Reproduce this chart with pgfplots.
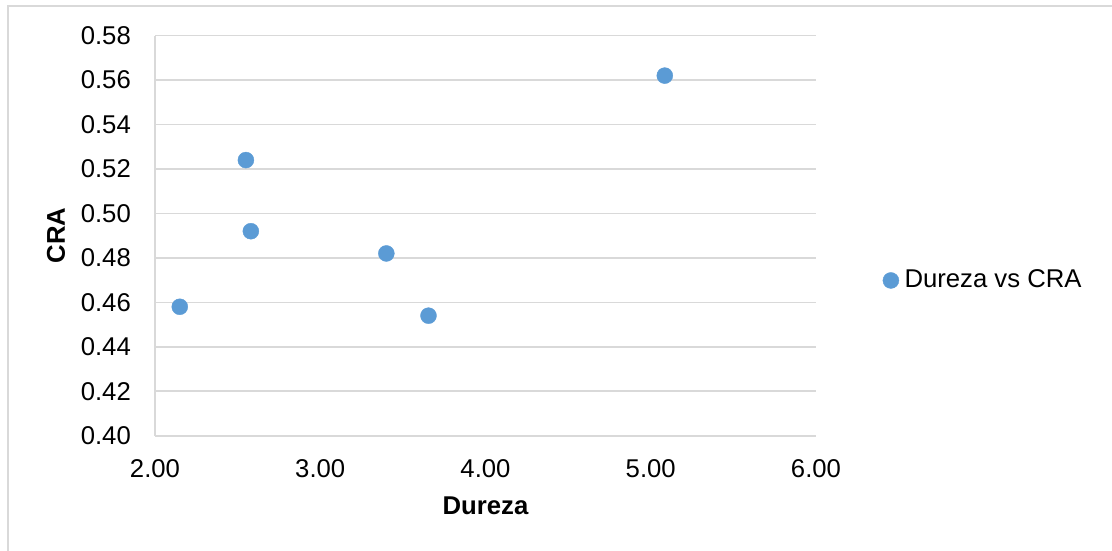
\documentclass[border=0pt]{standalone}
\usepackage{pgfplots}
\pgfplotsset{compat=1.18}
\usepackage{fontspec}
\setmainfont{Liberation Sans}
\definecolor{dotblue}{HTML}{5B9BD5}
\definecolor{gridgray}{HTML}{D9D9D9}
\begin{document}
\fontsize{25.7bp}{30bp}\selectfont
\begin{tikzpicture}
\useasboundingbox (0,0) rectangle (1112bp,-551bp);
% chart frame (top and left edges)
\draw[gridgray, line width=1.6bp] (8.2bp,-551bp) -- (8.2bp,-5.8bp) -- (1112bp,-5.8bp);
\begin{axis}[
  at={(155bp,-435.7bp)}, anchor=south west,
  scale only axis, width=661bp, height=400.1bp,
  xmin=2, xmax=6, ymin=0.40, ymax=0.58,
  xtick={2,3,4,5,6},
  ytick={0.40,0.42,0.44,0.46,0.48,0.50,0.52,0.54,0.56,0.58},
  axis x line*=bottom, axis y line*=left,
  axis line style={gridgray, line width=1.6bp, -},
  ymajorgrids, grid style={gridgray, line width=1.6bp},
  major tick length=0pt,
  /pgf/number format/fixed,
  /pgf/number format/fixed zerofill,
  /pgf/number format/precision=2,
  /pgf/number format/assume math mode=true,
  yticklabel style={anchor=east, inner sep=0pt, xshift=-24bp},
  xticklabel style={anchor=north, inner sep=0pt, yshift=-24bp},
  xlabel={\bfseries Dureza}, ylabel={\bfseries CRA},
  xlabel style={at={(axis description cs:0.5,-0.1525)}, anchor=north, inner sep=0pt},
  ylabel style={at={(axis description cs:-0.1638,0.5)}, anchor=north, inner sep=0pt},
  legend style={at={(axis description cs:1.1009,0.3880)}, anchor=west,
    draw=none, fill=none, inner sep=0pt, column sep=5.6bp,
    nodes={inner sep=0pt}},
  legend cell align=left,
  legend image code/.code={\draw[#1] plot coordinates {(0bp,0bp)};},
]
\addplot[only marks, mark=*, mark size=8bp, color=dotblue,
  mark options={fill=dotblue, draw=none}] coordinates {
  (2.15,0.458)
  (2.55,0.524)
  (2.58,0.492)
  (3.40,0.482)
  (3.655,0.454)
  (5.085,0.562)
};
\addlegendentry{Dureza vs CRA}
\end{axis}
\end{tikzpicture}
\end{document}
